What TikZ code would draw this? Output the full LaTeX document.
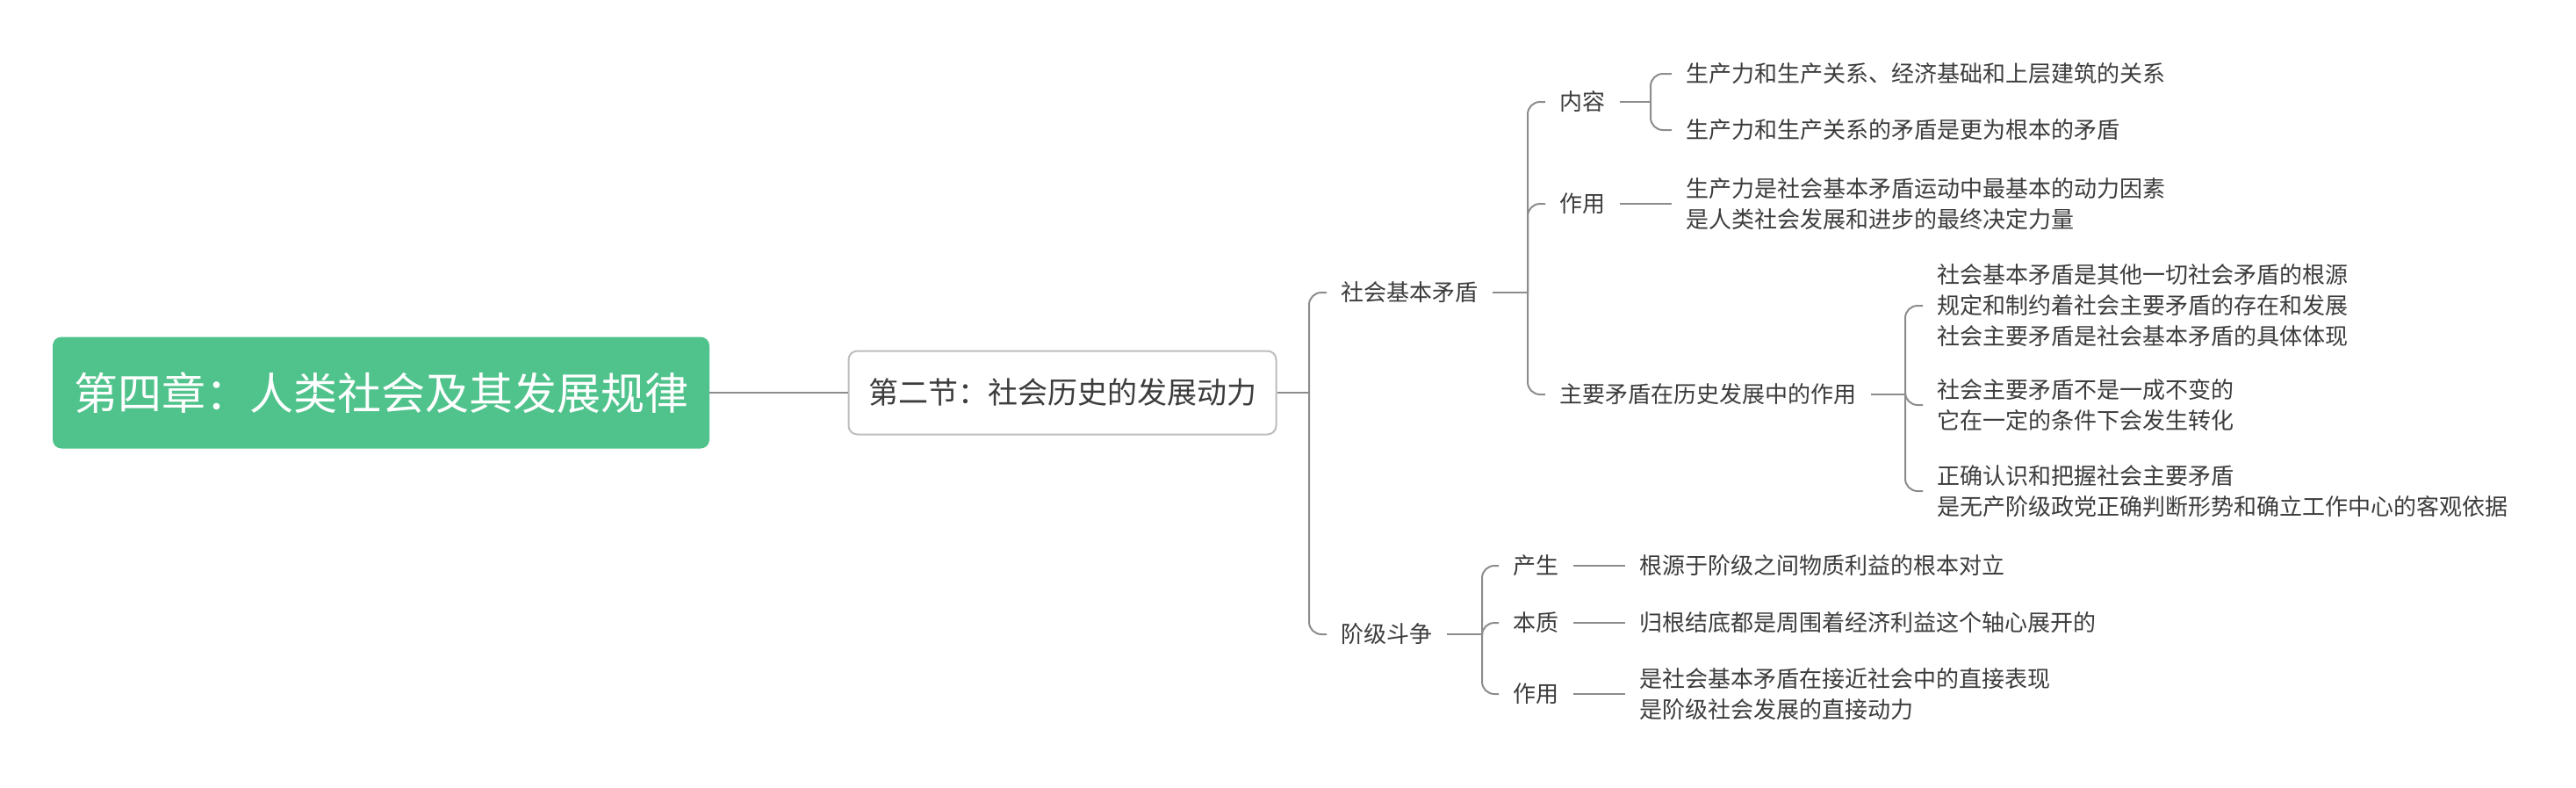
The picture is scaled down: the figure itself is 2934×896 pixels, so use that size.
\documentclass[tikz,border=0pt]{standalone}
\usepackage{fontspec}
\setmainfont{Noto Sans CJK SC}
\definecolor{rootgreen}{HTML}{50C38C}
\definecolor{linegray}{HTML}{8C8C8C}
\definecolor{boxgray}{HTML}{BDBDBD}
\definecolor{txtgray}{HTML}{3C3C3C}
\tikzset{
  conn/.style={draw=linegray, line width=1pt, rounded corners=7pt},
  topic/.style={anchor=west, inner xsep=8pt, inner ysep=2pt, text=txtgray,
    align=left, font=\fontsize{13}{17.5}\selectfont},
}
\begin{document}
\begin{tikzpicture}[x=0.5pt,y=-0.5pt]
 \useasboundingbox (0,0) rectangle (2934,896);
 % central topics
 \node[fill=rootgreen, rounded corners=5pt, minimum width=374pt, minimum height=63.5pt,
   text=white, font=\fontsize{25}{30}\selectfont] (root) at (434,447) {第四章：人类社会及其发展规律};
 \node[draw=boxgray, line width=1pt, fill=white, rounded corners=5pt, minimum width=243.5pt,
   minimum height=47.5pt, text=txtgray, font=\fontsize{17}{20}\selectfont] (sec) at (1210,447) {第二节：社会历史的发展动力};
 % level 1
 \node[topic] (basic) at (1511,333) {社会基本矛盾};
 \node[topic] (class) at (1511,722) {阶级斗争};
 % level 2
 \node[topic] (cont) at (1760,116) {内容};
 \node[topic] (func) at (1760,232) {作用};
 \node[topic] (mainc) at (1760,449) {主要矛盾在历史发展中的作用};
 \node[topic] (orig) at (1707,644) {产生};
 \node[topic] (ess) at (1707,709) {本质};
 \node[topic] (role) at (1707,790) {作用};
 % leaves
 \node[topic] (cont1) at (1904,84) {生产力和生产关系、经济基础和上层建筑的关系};
 \node[topic] (cont2) at (1904,148) {生产力和生产关系的矛盾是更为根本的矛盾};
 \node[topic] (func1) at (1904,232) {生产力是社会基本矛盾运动中最基本的动力因素\\是人类社会发展和进步的最终决定力量};
 \node[topic] (main1) at (2190,348) {社会基本矛盾是其他一切社会矛盾的根源\\规定和制约着社会主要矛盾的存在和发展\\社会主要矛盾是社会基本矛盾的具体体现};
 \node[topic] (main2) at (2190,461) {社会主要矛盾不是一成不变的\\它在一定的条件下会发生转化};
 \node[topic] (main3) at (2190,559) {正确认识和把握社会主要矛盾\\是无产阶级政党正确判断形势和确立工作中心的客观依据};
 \node[topic] (orig1) at (1851,644) {根源于阶级之间物质利益的根本对立};
 \node[topic] (ess1) at (1851,709) {归根结底都是周围着经济利益这个轴心展开的};
 \node[topic] (role1) at (1851,790) {是社会基本矛盾在接近社会中的直接表现\\是阶级社会发展的直接动力};
 % trunk joints
 \coordinate (jSec) at (1491,447);
 \coordinate (jBasic) at (1740,333);
 \coordinate (jCont) at (1880,116);
 \coordinate (jMain) at (2170,449);
 \coordinate (jClass) at (1688,722);
 % connectors
 \draw[conn] (root.east) -- (sec.west);
 \draw[conn] (sec.east) -- (jSec);
 \foreach \k in {basic,class} \draw[conn] (jSec) |- (\k.west);
 \draw[conn] (basic.east) -- (jBasic);
 \foreach \k in {cont,func,mainc} \draw[conn] (jBasic) |- (\k.west);
 \draw[conn] (cont.east) -- (jCont);
 \foreach \k in {cont1,cont2} \draw[conn] (jCont) |- (\k.west);
 \draw[conn] (func.east) -- (func1.west);
 \draw[conn] (mainc.east) -- (jMain);
 \foreach \k in {main1,main2,main3} \draw[conn] (jMain) |- (\k.west);
 \draw[conn] (class.east) -- (jClass);
 \foreach \k in {orig,ess,role} \draw[conn] (jClass) |- (\k.west);
 \draw[conn] (orig.east) -- (orig1.west);
 \draw[conn] (ess.east) -- (ess1.west);
 \draw[conn] (role.east) -- (role1.west);
\end{tikzpicture}
\end{document}
